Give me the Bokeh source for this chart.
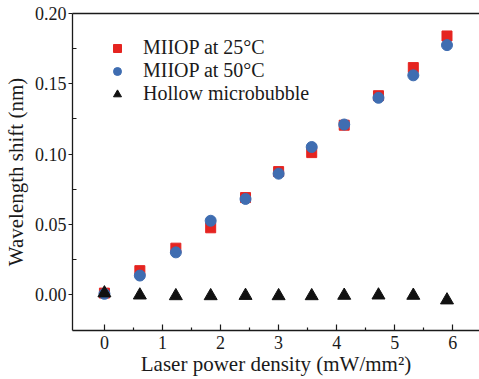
from bokeh.plotting import figure
from bokeh.models import (Range1d, FixedTicker, NumeralTickFormatter, LinearAxis,
                          Legend, LegendItem)
from bokeh.embed import file_html
from bokeh.resources import INLINE

# Laser power density (mW/mm^2)
power = [0.0, 0.61, 1.23, 1.83, 2.43, 3.0, 3.57, 4.13, 4.72, 5.32, 5.9]
# Wavelength shift (nm)
shift_25c = [0.001, 0.017, 0.033, 0.0475, 0.069, 0.0875, 0.101, 0.1205, 0.1415, 0.1615, 0.184]
shift_50c = [0.0005, 0.0135, 0.030, 0.0525, 0.068, 0.086, 0.105, 0.121, 0.140, 0.156, 0.1775]
shift_bubble = [0.001, -0.0005, -0.001, -0.001, -0.0008, -0.001, -0.001, -0.0007, -0.0005, -0.0007, -0.004]

x_ticks = [0, 1, 2, 3, 4, 5, 6]
x_minor = [0.5, 1.5, 2.5, 3.5, 4.5, 5.5]
y_ticks = [0.0, 0.05, 0.10, 0.15, 0.20]
y_minor = [0.025, 0.075, 0.125, 0.175]

FONT = "Liberation Serif"
INK = "#1a1a1a"

p = figure(width=479, height=379, output_backend="svg", toolbar_location=None,
           x_range=Range1d(-0.55, 6.46), y_range=Range1d(-0.0256, 0.20),
           min_border_left=71, min_border_right=0, min_border_top=13,
           min_border_bottom=49)
p.outline_line_color = None
p.grid.visible = False
p.background_fill_color = "white"
p.border_fill_color = "white"

r25 = p.scatter(power, shift_25c, marker="square", size=10, color="#e52420")
r50 = p.scatter(power, shift_50c, marker="circle", size=11, color="#3f6db1")
rb = p.scatter(power, shift_bubble, marker="triangle", size=13, color="#111111")

xa = p.xaxis[0]
xa.ticker = FixedTicker(ticks=x_ticks, minor_ticks=x_minor)
xa.axis_label = "Laser power density (mW/mm²)"
xa.major_tick_in = 6
xa.major_tick_out = 0
xa.minor_tick_in = 3
xa.minor_tick_out = 0
xa.major_label_standoff = 5
xa.axis_label_standoff = 0

ya = p.yaxis[0]
ya.ticker = FixedTicker(ticks=y_ticks, minor_ticks=y_minor)
ya.formatter = NumeralTickFormatter(format="0.00")
ya.axis_label = "Wavelength shift (nm)"
ya.major_tick_in = 0
ya.major_tick_out = 4
ya.minor_tick_in = 4
ya.minor_tick_out = 0
ya.major_label_standoff = 2
ya.axis_label_standoff = 4

for ax in (xa, ya):
    ax.axis_line_color = INK
    ax.axis_line_width = 1.3
    ax.major_tick_line_color = INK
    ax.minor_tick_line_color = INK
    ax.major_tick_line_width = 1.2
    ax.minor_tick_line_width = 1.2
    ax.major_label_text_font = FONT
    ax.major_label_text_font_size = "18px"
    ax.major_label_text_color = INK
    ax.axis_label_text_font = FONT
    ax.axis_label_text_font_size = "21px"
    ax.axis_label_text_font_style = "normal"
    ax.axis_label_text_color = INK

# top border line of the frame
top = LinearAxis(ticker=FixedTicker(ticks=[]), major_label_text_font_size="0px",
                 major_tick_line_color=None, minor_tick_line_color=None,
                 axis_line_color=INK, axis_line_width=1.3, major_label_standoff=0)
p.add_layout(top, "above")

legend = Legend(items=[LegendItem(label="MIIOP at 25°C", renderers=[r25]),
                       LegendItem(label="MIIOP at 50°C", renderers=[r50]),
                       LegendItem(label="Hollow microbubble", renderers=[rb])],
                location=(35, 225))
legend.border_line_color = None
legend.background_fill_alpha = 0
legend.label_text_font = FONT
legend.label_text_font_size = "20px"
legend.label_text_color = INK
legend.spacing = 0
legend.label_height = 22
legend.glyph_height = 22
legend.glyph_width = 20
legend.label_standoff = 16
legend.padding = 0
legend.margin = 0
p.add_layout(legend)

open("out.html", "w").write(file_html(p, INLINE))
